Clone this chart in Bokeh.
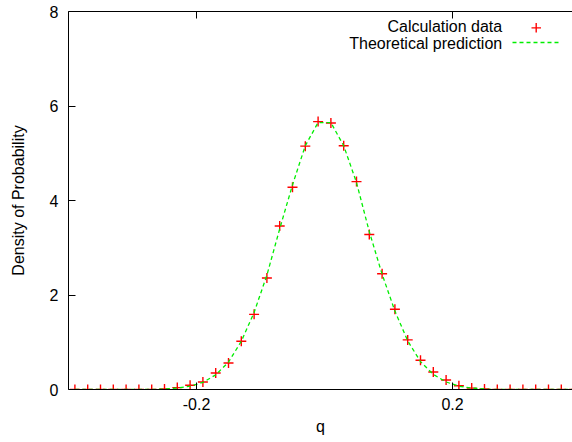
from bokeh.plotting import figure
from bokeh.models import Range1d, FixedTicker, LinearAxis, Label, Arrow, ColumnDataSource
from bokeh.embed import file_html
from bokeh.resources import INLINE

# ---- data ----
q_values = [-0.39, -0.37, -0.35, -0.33, -0.31, -0.29, -0.27, -0.25, -0.23, -0.21,
            -0.19, -0.17, -0.15, -0.13, -0.11, -0.09, -0.07, -0.05, -0.03, -0.01,
            0.01, 0.03, 0.05, 0.07, 0.09, 0.11, 0.13, 0.15, 0.17, 0.19,
            0.21, 0.23, 0.25, 0.27, 0.29, 0.31, 0.33, 0.35, 0.37, 0.39]
calc_density = [0.0, 0.0, 0.0, 0.0, 0.0, 0.0, 0.0, 0.01, 0.04, 0.09,
                0.16, 0.35, 0.56, 1.02, 1.59, 2.36, 3.46, 4.28, 5.15, 5.67,
                5.64, 5.16, 4.40, 3.28, 2.45, 1.70, 1.05, 0.62, 0.37, 0.20,
                0.08, 0.03, 0.01, 0.0, 0.0, 0.0, 0.0, 0.0, 0.0, 0.0]
theory_density = [0.0, 0.0, 0.0, 0.0, 0.0, 0.0, 0.0, 0.01, 0.03, 0.07,
                  0.15, 0.31, 0.58, 1.02, 1.63, 2.42, 3.40, 4.33, 5.16, 5.65,
                  5.65, 5.16, 4.38, 3.34, 2.44, 1.66, 1.03, 0.59, 0.32, 0.16,
                  0.07, 0.03, 0.01, 0.0, 0.0, 0.0, 0.0, 0.0, 0.0, 0.0]
x_tick_values = [-0.2, 0.2]
x_tick_labels = ["-0.2", "0.2"]
y_tick_values = [0, 2, 4, 6, 8]
series_labels = ["Calculation data", "Theoretical prediction"]
x_label = "q"
y_label = "Density of Probability"

FONT = "Liberation Sans"
FS = "16px"
RED = "#ff0000"
GREEN = "#00ee00"

p = figure(width=572, height=442, output_backend="svg", toolbar_location=None,
           x_range=Range1d(-0.4, 0.3875), y_range=Range1d(0, 8),
           min_border_left=68, min_border_right=0, min_border_top=11, min_border_bottom=53)
p.outline_line_color = None
p.xgrid.grid_line_color = None
p.ygrid.grid_line_color = None
p.background_fill_color = "white"
p.border_fill_color = "white"

def style_axis(ax, ticks):
    ax.ticker = FixedTicker(ticks=ticks)
    ax.axis_line_color = "black"
    ax.axis_line_width = 1
    ax.major_tick_line_color = "black"
    ax.major_tick_in = 7
    ax.major_tick_out = 0
    ax.minor_tick_line_color = None
    ax.major_label_text_font = FONT
    ax.major_label_text_font_size = FS
    ax.major_label_text_color = "black"
    ax.axis_label_text_font = FONT
    ax.axis_label_text_font_size = FS
    ax.axis_label_text_font_style = "normal"
    ax.axis_label_text_color = "black"

style_axis(p.xaxis[0], x_tick_values)
p.xaxis[0].major_label_overrides = dict(zip(x_tick_values, x_tick_labels))
p.xaxis[0].axis_label = x_label
p.xaxis[0].major_label_standoff = 8
p.xaxis[0].axis_label_standoff = 5

style_axis(p.yaxis[0], y_tick_values)
p.yaxis[0].axis_label = y_label
p.yaxis[0].major_label_standoff = 10
p.yaxis[0].axis_label_standoff = 20

# mirrored ticks on the top border, no labels
top_axis = LinearAxis()
style_axis(top_axis, x_tick_values)
top_axis.major_label_text_color = None
top_axis.major_label_text_font_size = "1px"
top_axis.major_label_standoff = 0
p.add_layout(top_axis, "above")

src = ColumnDataSource(dict(q=q_values, calc=calc_density, theory=theory_density))
p.scatter("q", "calc", source=src, marker="cross", size=10, line_color=RED, line_width=1.4)
p.line("q", "theory", source=src, line_color=GREEN, line_width=1.3, line_dash="4 3")

# legend (gnuplot style: text right-aligned, key to the right)
p.add_layout(Label(x=433.7, y=363, x_units="screen", y_units="screen", text=series_labels[0],
                   text_align="right", text_baseline="alphabetic", text_font=FONT,
                   text_font_size=FS, text_color="black"))
p.add_layout(Label(x=433.7, y=346.5, x_units="screen", y_units="screen", text=series_labels[1],
                   text_align="right", text_baseline="alphabetic", text_font=FONT,
                   text_font_size=FS, text_color="black"))
p.add_layout(Arrow(x_start=463, y_start=361.6, x_end=472.5, y_end=361.6,
                   start_units="screen", end_units="screen", start=None, end=None,
                   line_color=RED, line_width=1.4))
p.add_layout(Arrow(x_start=467.7, y_start=357, x_end=467.7, y_end=366.5,
                   start_units="screen", end_units="screen", start=None, end=None,
                   line_color=RED, line_width=1.4))
p.add_layout(Arrow(x_start=444, y_start=347, x_end=492, y_end=347,
                   start_units="screen", end_units="screen", start=None, end=None,
                   line_color=GREEN, line_width=1.3, line_dash="4 3"))

open("out.html", "w").write(file_html(p, INLINE))
